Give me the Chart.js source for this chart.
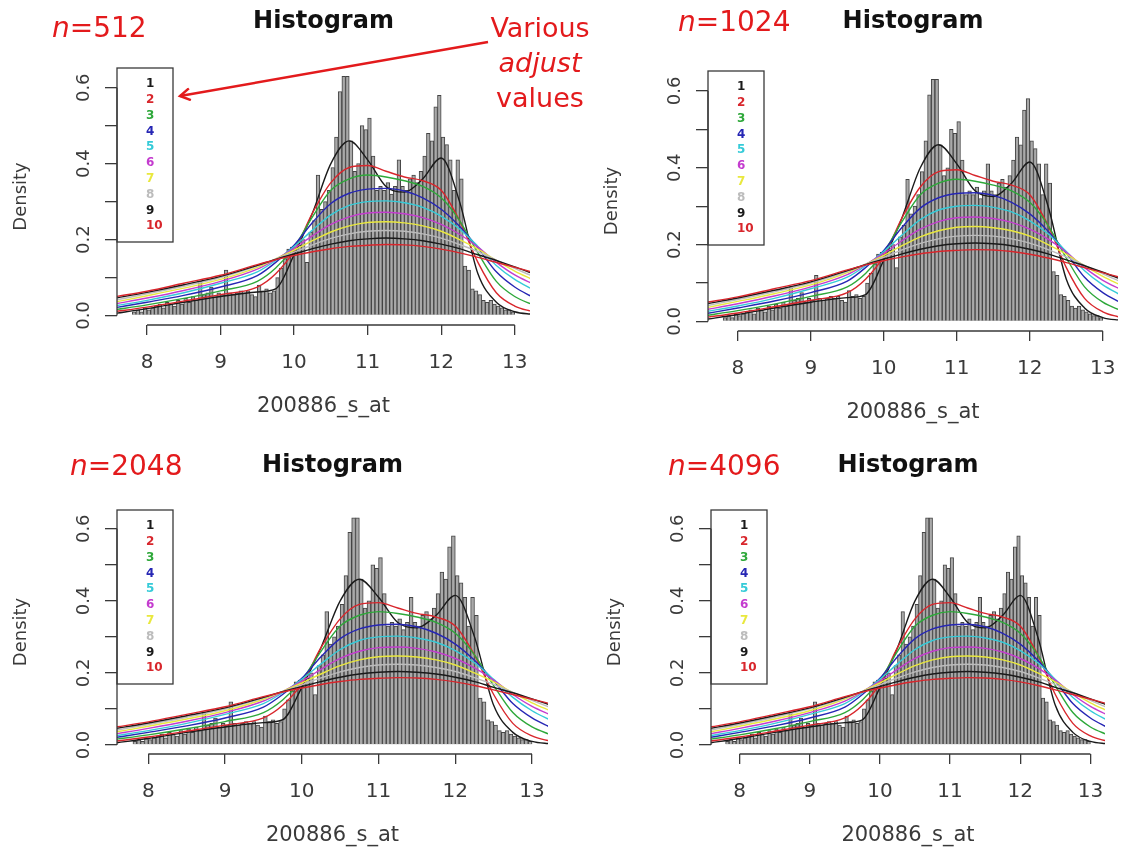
<!DOCTYPE html>
<html>
<head>
<meta charset="utf-8">
<script src="https://cdn.jsdelivr.net/npm/chart.js@4.4.1/dist/chart.umd.min.js"></script>
<style>
  body { margin: 0; background: #fff; }
  #page { position: relative; width: 1135px; height: 848px; overflow: hidden; font-family: 'DejaVu Sans', sans-serif; }
  #page canvas { position: absolute; }
  .note { position: absolute; color: #e31a1c; font-size: 28px; line-height: 35px; white-space: nowrap; }
  .note.center { text-align: center; width: 140px; font-size: 27px; }
  #arrow { position: absolute; left: 0; top: 0; pointer-events: none; }
</style>
</head>
<body>
<div id="page">
  <canvas id="c512" width="567" height="424" style="left:0;top:0"></canvas>
  <canvas id="c1024" width="568" height="424" style="left:567px;top:0"></canvas>
  <canvas id="c2048" width="567" height="424" style="left:0;top:424px"></canvas>
  <canvas id="c4096" width="568" height="424" style="left:567px;top:424px"></canvas>

  <div class="note" style="left:52px;top:10px"><i>n</i>=512</div>
  <div class="note" style="left:678px;top:4px"><i>n</i>=1024</div>
  <div class="note" style="left:70px;top:448px"><i>n</i>=2048</div>
  <div class="note" style="left:668px;top:448px"><i>n</i>=4096</div>
  <div class="note center" style="left:470px;top:10px">Various<br><i>adjust</i><br>values</div>

  <svg id="arrow" width="1135" height="848">
    <defs>
      <marker id="head" markerWidth="14" markerHeight="14" refX="11" refY="7" orient="auto" markerUnits="userSpaceOnUse">
        <path d="M1,1 L11,7 L1,13" fill="none" stroke="#e31a1c" stroke-width="2.5"/>
      </marker>
    </defs>
    <line x1="488" y1="42" x2="180" y2="96" stroke="#e31a1c" stroke-width="2.5" marker-end="url(#head)"/>
  </svg>
</div>

<script>
// histogram: density of each 0.05-wide bin, first bin starts at 7.80
const binStart = 7.8;
const binWidth = 0.05;
const histDensity = [
  0.010, 0.015, 0.010, 0.020,
  // 8.00 - 8.95
  0.015, 0.020, 0.025, 0.030, 0.020, 0.035, 0.030, 0.025, 0.040, 0.030,
  0.045, 0.035, 0.050, 0.040, 0.090, 0.055, 0.060, 0.075, 0.050, 0.060,
  // 9.00 - 9.95
  0.055, 0.120, 0.060, 0.055, 0.060, 0.065, 0.060, 0.065, 0.055, 0.050,
  0.080, 0.065, 0.070, 0.060, 0.065, 0.100, 0.125, 0.150, 0.175, 0.180,
  // 10.00 - 10.95
  0.170, 0.185, 0.200, 0.140, 0.220, 0.250, 0.370, 0.280, 0.300, 0.330,
  0.390, 0.470, 0.590, 0.630, 0.630, 0.460, 0.380, 0.400, 0.500, 0.490,
  // 11.00 - 11.95
  0.520, 0.420, 0.330, 0.340, 0.330, 0.350, 0.320, 0.340, 0.410, 0.340,
  0.330, 0.360, 0.370, 0.350, 0.380, 0.420, 0.480, 0.460, 0.550, 0.580,
  // 12.00 - 12.95
  0.470, 0.450, 0.410, 0.330, 0.410, 0.360, 0.130, 0.120, 0.070, 0.065,
  0.055, 0.040, 0.035, 0.040, 0.030, 0.025, 0.020, 0.015, 0.015, 0.010
];

// density estimates, sampled at curveX, for adjust = 1..10
const curveX = [7.55, 8.0, 8.5, 9.0, 9.5, 9.75, 10.0, 10.25, 10.5, 10.75,
                11.0, 11.25, 11.5, 11.75, 12.0, 12.25, 12.5, 12.75, 13.0, 13.25];
const adjust1 = [0.005, 0.018, 0.035, 0.050, 0.062, 0.070, 0.160, 0.270, 0.400, 0.460, 0.410, 0.340, 0.325, 0.360, 0.415, 0.300, 0.110, 0.035, 0.010, 0.003];
const adjust2 = [0.010, 0.022, 0.038, 0.055, 0.075, 0.110, 0.170, 0.270, 0.350, 0.390, 0.395, 0.380, 0.365, 0.355, 0.330, 0.250, 0.140, 0.060, 0.025, 0.010];
const adjust3 = [0.015, 0.028, 0.045, 0.065, 0.090, 0.125, 0.180, 0.260, 0.330, 0.360, 0.370, 0.365, 0.355, 0.340, 0.310, 0.250, 0.165, 0.090, 0.050, 0.028];
const adjust4 = [0.020, 0.035, 0.053, 0.075, 0.105, 0.140, 0.185, 0.245, 0.295, 0.322, 0.333, 0.335, 0.328, 0.310, 0.280, 0.235, 0.178, 0.115, 0.075, 0.048];
const adjust5 = [0.025, 0.040, 0.060, 0.085, 0.115, 0.145, 0.182, 0.225, 0.265, 0.290, 0.300, 0.302, 0.297, 0.285, 0.262, 0.228, 0.182, 0.132, 0.095, 0.068];
const adjust6 = [0.030, 0.046, 0.066, 0.090, 0.122, 0.148, 0.177, 0.210, 0.240, 0.260, 0.270, 0.272, 0.268, 0.258, 0.240, 0.214, 0.180, 0.140, 0.107, 0.083];
const adjust7 = [0.035, 0.052, 0.072, 0.095, 0.127, 0.149, 0.172, 0.197, 0.220, 0.236, 0.245, 0.247, 0.244, 0.236, 0.222, 0.200, 0.175, 0.145, 0.117, 0.094];
const adjust8 = [0.040, 0.057, 0.077, 0.100, 0.130, 0.149, 0.167, 0.186, 0.203, 0.215, 0.222, 0.224, 0.222, 0.215, 0.204, 0.187, 0.168, 0.146, 0.124, 0.103];
const adjust9 = [0.045, 0.061, 0.081, 0.103, 0.132, 0.148, 0.162, 0.176, 0.188, 0.197, 0.202, 0.204, 0.202, 0.197, 0.188, 0.176, 0.160, 0.145, 0.128, 0.110];
const adjust10 = [0.049, 0.064, 0.085, 0.106, 0.134, 0.147, 0.158, 0.168, 0.176, 0.182, 0.185, 0.187, 0.186, 0.182, 0.175, 0.165, 0.153, 0.140, 0.127, 0.114];
const adjustCurves = [adjust1, adjust2, adjust3, adjust4, adjust5, adjust6, adjust7, adjust8, adjust9, adjust10];
const adjustLabels = ['1', '2', '3', '4', '5', '6', '7', '8', '9', '10'];
// R palette 1..8, then wraps around
const adjustColors = ['#1a1a1a', '#d8262c', '#2ea83a', '#2626b4', '#35cbd8', '#c43ccf', '#e9e83e', '#bcbcbc', '#1a1a1a', '#d8262c'];

const xTicks = [8, 9, 10, 11, 12, 13];
const yTicks = [0, 0.1, 0.2, 0.3, 0.4, 0.5, 0.6];
const yTickLabels = ['0.0', '', '0.2', '', '0.4', '', '0.6'];

const FONT = 'DejaVu Sans';
const Y_AXIS_W = 110;
const X_AXIS_H = 98;

// one panel per sample size; area = plot region inside the canvas
const panels = [
  { canvas: 'c512',  area: { left: 117, right: 530, top: 68, bottom: 325 }, titleY: 22 },
  { canvas: 'c1024', area: { left: 141, right: 551, top: 71, bottom: 331 }, titleY: 22 },
  { canvas: 'c2048', area: { left: 117, right: 548, top: 86, bottom: 330 }, titleY: 42 },
  { canvas: 'c4096', area: { left: 144, right: 538, top: 86, bottom: 330 }, titleY: 42 }
];

// R draws its axis lines only between the first and last tick
const axisLines = {
  id: 'axisLines',
  afterDraw(chart) {
    const { ctx, chartArea, scales: { x, y } } = chart;
    ctx.save();
    ctx.strokeStyle = '#3a3a3a';
    ctx.lineWidth = 1.3;
    ctx.beginPath();
    ctx.moveTo(x.getPixelForValue(xTicks[0]), chartArea.bottom);
    ctx.lineTo(x.getPixelForValue(xTicks[xTicks.length - 1]), chartArea.bottom);
    ctx.moveTo(chartArea.left, y.getPixelForValue(yTicks[0]));
    ctx.lineTo(chartArea.left, y.getPixelForValue(yTicks[yTicks.length - 1]));
    ctx.stroke();
    ctx.restore();
  }
};

// boxed legend in the top-left corner, numbers only
const adjustLegend = {
  id: 'adjustLegend',
  afterDatasetsDraw(chart) {
    const { ctx, chartArea } = chart;
    const items = chart.data.datasets.filter(d => d.type === 'line');
    const rowH = 15.8;
    const w = 56;
    const h = items.length * rowH + 16;
    const left = chartArea.left;
    const top = chartArea.top;
    ctx.save();
    ctx.fillStyle = '#fff';
    ctx.fillRect(left, top, w, h);
    ctx.strokeStyle = '#3a3a3a';
    ctx.lineWidth = 1.3;
    ctx.strokeRect(left, top, w, h);
    ctx.font = 'bold 12px "' + FONT + '"';
    ctx.textBaseline = 'middle';
    ctx.textAlign = 'left';
    items.forEach((d, i) => {
      ctx.fillStyle = d.borderColor;
      ctx.fillText(d.label, left + 29, top + 16 + i * rowH);
    });
    ctx.restore();
  }
};

function makePanel(p) {
  const el = document.getElementById(p.canvas);
  const W = el.width, H = el.height, a = p.area;
  const titleLh = 24 * 1.2;

  const bars = {
    type: 'bar',
    label: 'Histogram',
    data: histDensity.map((d, i) => ({ x: +(binStart + binWidth * (i + 0.5)).toFixed(3), y: d })),
    backgroundColor: '#a9a9a9',
    borderColor: '#444',
    borderWidth: 1,
    barPercentage: 1,
    categoryPercentage: 1,
    order: 100
  };
  const lines = adjustCurves.map((vals, k) => ({
    type: 'line',
    label: adjustLabels[k],
    data: curveX.map((x, i) => ({ x, y: vals[i] })),
    borderColor: adjustColors[k],
    borderWidth: 1.4,
    pointRadius: 0,
    fill: false,
    cubicInterpolationMode: 'monotone',
    order: 10 - k
  }));

  return new Chart(el, {
    type: 'bar',
    data: { datasets: [bars, ...lines] },
    options: {
      responsive: false,
      animation: false,
      events: [],
      layout: {
        padding: { left: a.left - Y_AXIS_W, right: W - a.right, top: 0, bottom: H - a.bottom - X_AXIS_H }
      },
      plugins: {
        legend: { display: false },
        tooltip: { enabled: false },
        title: {
          display: true,
          text: 'Histogram',
          fullSize: false,
          color: '#111',
          font: { family: FONT, size: 24, weight: 'bold' },
          padding: { top: p.titleY - titleLh / 2, bottom: a.top - p.titleY - titleLh / 2 }
        }
      },
      scales: {
        x: {
          type: 'linear',
          offset: false,
          min: 7.592,
          max: 13.208,
          afterBuildTicks: s => { s.ticks = xTicks.map(v => ({ value: v })); },
          afterFit: s => { s.height = X_AXIS_H; },
          grid: { offset: false, drawOnChartArea: false, drawTicks: true, tickLength: 10, color: '#3a3a3a', lineWidth: 1.3 },
          border: { display: false },
          ticks: { color: '#3a3a3a', font: { family: FONT, size: 20 }, padding: 16, maxRotation: 0, autoSkip: false },
          title: { display: true, text: '200886_s_at', color: '#3a3a3a', font: { family: FONT, size: 21 }, padding: { top: 0, bottom: 4 } }
        },
        y: {
          type: 'linear',
          min: -0.025,
          max: 0.652,
          afterBuildTicks: s => { s.ticks = yTicks.map(v => ({ value: v })); },
          afterFit: s => { s.width = Y_AXIS_W; },
          grid: { drawOnChartArea: false, drawTicks: true, tickLength: 12, color: '#3a3a3a', lineWidth: 1.3 },
          border: { display: false },
          ticks: {
            color: '#3a3a3a',
            font: { family: FONT, size: 18 },
            minRotation: 90,
            maxRotation: 90,
            crossAlign: 'center',
            padding: 6,
            autoSkip: false,
            callback: (v, i) => yTickLabels[i]
          },
          title: { display: true, text: 'Density', color: '#3a3a3a', font: { family: FONT, size: 18 }, padding: { top: 4, bottom: 0 } }
        }
      }
    },
    plugins: [axisLines, adjustLegend]
  });
}

panels.forEach(makePanel);
</script>
</body>
</html>
